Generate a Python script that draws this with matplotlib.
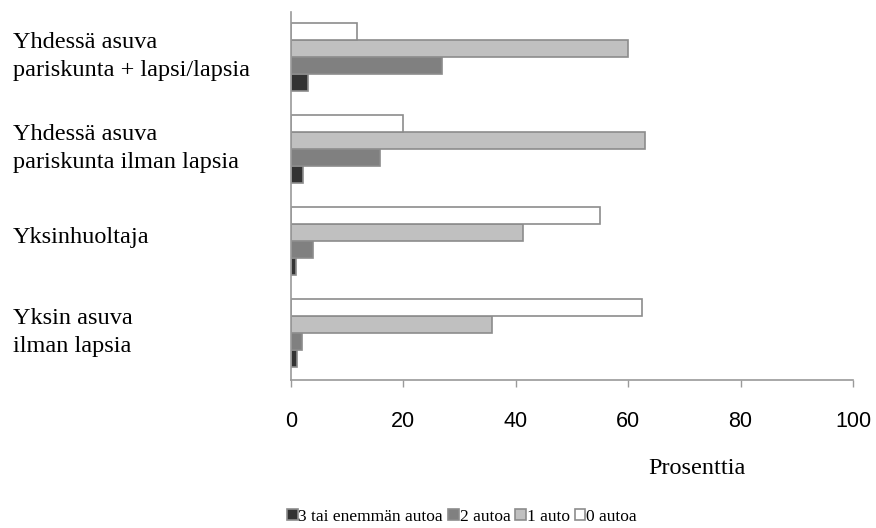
import matplotlib
matplotlib.use("Agg")
import matplotlib.pyplot as plt
import numpy as np

# categories, bottom to top as drawn
categories = ["Yksin asuva\nilman lapsia",
              "Yksinhuoltaja",
              "Yhdessä asuva\npariskunta ilman lapsia",
              "Yhdessä asuva\npariskunta + lapsi/lapsia"]

# percentages per series (same order as categories)
autoa_3plus = [1.0, 0.9, 2.1, 3.0]
autoa_2 = [2.0, 4.0, 15.8, 26.9]
auto_1 = [35.7, 41.3, 63.0, 60.0]
autoa_0 = [62.4, 55.0, 20.0, 11.7]

series_labels = ["3 tai enemmän autoa", "2 autoa", "1 auto", "0 autoa"]
series_values = [autoa_3plus, autoa_2, auto_1, autoa_0]
colors = ["#333333", "#808080", "#c0c0c0", "#ffffff"]
edge = "#8c8c8c"

fig = plt.figure(figsize=(8.76, 5.28), dpi=100)
ax = fig.add_axes([291/876, 1 - 380/528, (853-291)/876, (380-12)/528])

y = np.arange(len(categories))
h = 0.185
offsets = [-1.5*h, -0.5*h, 0.5*h, 1.5*h]
for vals, lab, c, off in zip(series_values, series_labels, colors, offsets):
    ax.barh(y + off + 0.01, vals, height=h, color=c, edgecolor=edge,
            linewidth=1.2, label=lab)

ax.set_xlim(0, 100)
ax.set_ylim(-0.5, 3.5)
ax.set_xticks(range(0, 101, 20))
ax.tick_params(axis="x", length=5, width=1, color="#9a9a9a", pad=17,
               labelsize=15.5)
for t in ax.get_xticklabels():
    t.set_family("Liberation Sans")

ax.set_yticks(y + 0.08)
ax.set_yticklabels(categories, family="Liberation Serif", fontsize=17.5,
                   ha="left", linespacing=1.4)
ax.tick_params(axis="y", length=0, pad=278*0.72)

for s in ["top", "right"]:
    ax.spines[s].set_visible(False)
for s in ["left", "bottom"]:
    ax.spines[s].set_color("#9a9a9a")
    ax.spines[s].set_linewidth(1.2)

fig.text(697/876, 1 - 468/528, "Prosenttia", family="Liberation Serif",
         fontsize=17.5, ha="center", va="center")

handles, labels = ax.get_legend_handles_labels()
fig.legend(handles, labels, loc="center", bbox_to_anchor=(462/876, 1 - 517/528),
           ncol=4, frameon=False, handlelength=0.6, handleheight=0.6,
           handletextpad=0.05, columnspacing=0.3,
           prop={"family": "Liberation Serif", "size": 12.5})

fig.savefig("out.png", dpi=100)
